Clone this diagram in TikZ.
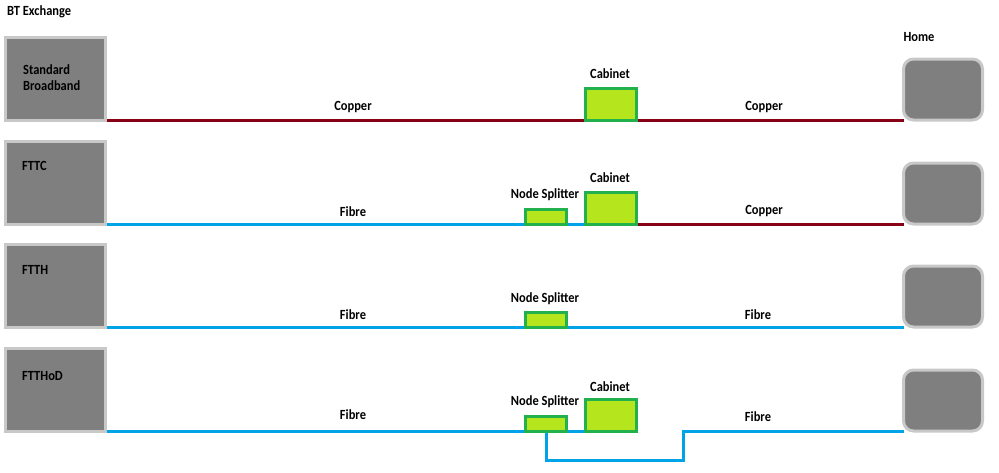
\documentclass[tikz,border=0pt]{standalone}
\usepackage{fontspec}
\setmainfont{Carlito}[FakeStretch=0.89]
\usetikzlibrary{backgrounds}
\definecolor{boxgray}{HTML}{7F7F7F}
\definecolor{boxedge}{HTML}{C8C8C8}
\definecolor{cabfill}{HTML}{B5E61D}
\definecolor{cabedge}{HTML}{22B14C}
\definecolor{fibrec}{HTML}{00A2E8}
\definecolor{copperc}{HTML}{880015}
\tikzset{
  exch/.style={draw=boxedge, fill=boxgray, line width=3pt, minimum width=100pt, minimum height=82.5pt, inner sep=0pt, outer sep=0pt, anchor=south west},
  homebox/.style={draw=boxedge, fill=boxgray, line width=3pt, rounded corners=10pt, minimum width=79pt, minimum height=61pt, inner sep=0pt, outer sep=0pt, anchor=south west},
  cabbox/.style={draw=cabedge, fill=cabfill, line width=3pt, minimum width=51pt, minimum height=32pt, inner sep=0pt, outer sep=0pt, anchor=south west},
  splbox/.style={draw=cabedge, fill=cabfill, line width=3pt, minimum width=41pt, minimum height=14.5pt, inner sep=0pt, outer sep=0pt, anchor=south west},
  lbl/.style={font=\fontsize{14}{16}\selectfont\bfseries, inner sep=0pt, anchor=base},
  blbl/.style={font=\fontsize{14}{16}\selectfont\bfseries, inner sep=0pt, anchor=base west, align=left},
  fibre/.style={draw=fibrec, line width=3pt},
  copper/.style={draw=copperc, line width=3pt},
}
\begin{document}
\begin{tikzpicture}[x=1pt,y=-1pt]
\useasboundingbox (0,0) rectangle (999,472);
% titles
\node[lbl, anchor=base west] (title) at (7,15) {BT Exchange};
\node[lbl] (hometitle) at (919,41) {Home};
% row 1
\node[exch] (ex1) at (5.5,120) {};
\node[homebox] (home1) at (903.5,120) {};
\node[cabbox] (cab1) at (585.5,120) {};
\node[blbl] (t1) at (23,90) {Standard\\Broadband};
% row 2
\node[exch] (ex2) at (5.5,224) {};
\node[homebox] (home2) at (903.5,224) {};
\node[cabbox] (cab2) at (585.5,224) {};
\node[splbox] (spl2) at (525.5,224) {};
\node[blbl] (t2) at (22,170) {FTTC};
% row 3
\node[exch] (ex3) at (5.5,327) {};
\node[homebox] (home3) at (903.5,327) {};
\node[splbox] (spl3) at (525.5,327) {};
\node[blbl] (t3) at (22,274) {FTTH};
% row 4
\node[exch] (ex4) at (5.5,431) {};
\node[homebox] (home4) at (903.5,431) {};
\node[cabbox] (cab4) at (585.5,431) {};
\node[splbox] (spl4) at (525.5,431) {};
\node[blbl] (t4) at (22,380) {FTTHoD};
\coordinate (rise4) at (683,431);
% line labels
\node[lbl] (l1a) at (353,110) {Copper};
\node[lbl] (l1b) at (610,78) {Cabinet};
\node[lbl] (l1c) at (764,110) {Copper};
\node[lbl] (l2a) at (353,216) {Fibre};
\node[lbl] (l2b) at (545,198) {Node Splitter};
\node[lbl] (l2c) at (610,182) {Cabinet};
\node[lbl] (l2d) at (764,214) {Copper};
\node[lbl] (l3a) at (353,319) {Fibre};
\node[lbl] (l3b) at (545,302) {Node Splitter};
\node[lbl] (l3c) at (758,319) {Fibre};
\node[lbl] (l4a) at (353,419) {Fibre};
\node[lbl] (l4b) at (545,405) {Node Splitter};
\node[lbl] (l4c) at (610,391) {Cabinet};
\node[lbl] (l4d) at (758,421) {Fibre};
% connectors
\begin{scope}[on background layer]
\draw[copper] (ex1.south east) -- (home1.south west);
\draw[fibre] (ex2.south east) -- (cab2.south west);
\draw[copper] (cab2.south east) -- (home2.south west);
\draw[fibre] (ex3.south east) -- (home3.south west);
\draw[fibre] (ex4.south east) -- (cab4.south west);
\draw[fibre] (spl4.south) -- ++(0,29) -| (rise4) -- (home4.south west);
\end{scope}
\end{tikzpicture}
\end{document}
